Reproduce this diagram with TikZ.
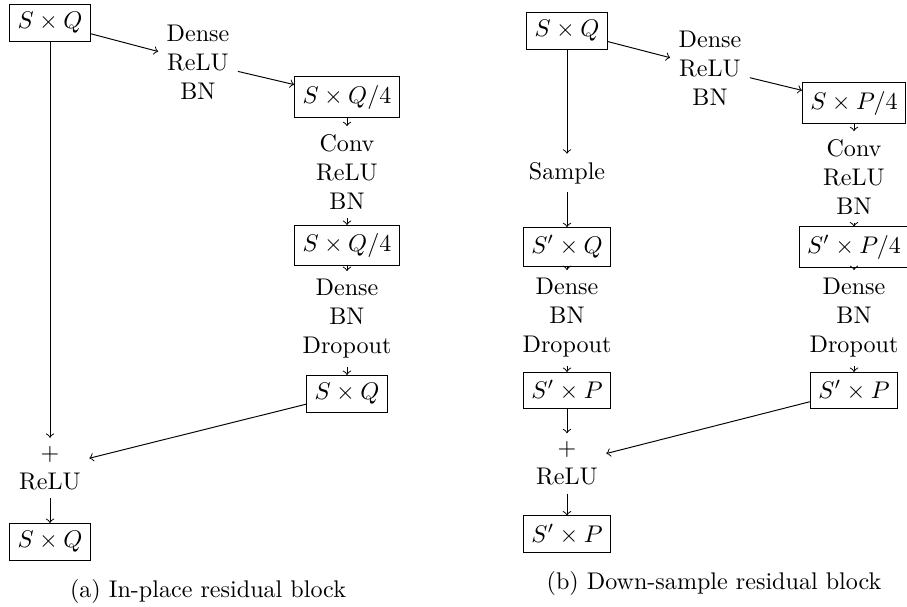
\documentclass[tikz,border=0pt]{standalone}
\usepackage{tikz}

\begin{document}
\begin{tikzpicture}[x=0.415pt,y=-0.415pt,>=to,
	box/.style={draw},
	op/.style={align=center}]
	\useasboundingbox (0,0) rectangle (907,606);
	\node[box] (a1) at (50,23) {$S\times Q$};
	\node[op] (at1) at (198,62) {Dense\\ReLU\\BN};
	\node[box] (a2) at (347,97) {$S\times Q/4$};
	\node[op] (at2) at (347,172) {Conv\\ReLU\\BN};
	\node[box] (a3) at (347,245.5) {$S\times Q/4$};
	\node[op] (at3) at (347,319) {Dense\\BN\\Dropout};
	\node[box] (a4) at (347,394) {$S\times Q$};
	\node[op] (aadd) at (50,468) {$+$\\ReLU};
	\node[box] (aout) at (50,542) {$S\times Q$};
	\node (acap) at (208,591) {(a) In-place residual block};
	\node[box] (b1) at (567,31) {$S\times Q$};
	\node[op] (bt1) at (710,68) {Dense\\ReLU\\BN};
	\node[box] (b2) at (854,103) {$S\times P/4$};
	\node[op] (bt2) at (854,177) {Conv\\ReLU\\BN};
	\node[box] (b3) at (854,247) {$S'\times P/4$};
	\node[op] (bt3) at (854,318) {Dense\\BN\\Dropout};
	\node[box] (b4) at (854,390.5) {$S'\times P$};
	\node[op] (bs) at (567,173) {Sample};
	\node[box] (bq) at (567,247) {$S'\times Q$};
	\node[op] (bt4) at (567,318) {Dense\\BN\\Dropout};
	\node[box] (bp) at (567,390.5) {$S'\times P$};
	\node[op] (badd) at (567,463.5) {$+$\\ReLU};
	\node[box] (bout) at (567,534) {$S'\times P$};
	\node (bcap) at (714,583) {(b) Down-sample residual block};
	\foreach \u/\v in {a1/at1,at1/a2,a2/at2,at2/a3,a3/at3,at3/a4,a1/aadd,a4/aadd,aadd/aout}
		\draw[->] (\u) -- (\v);
	\foreach \u/\v in {b1/bt1,bt1/b2,b2/bt2,bt2/b3,b3/bt3,bt3/b4,b1/bs,bs/bq,bq/bt4,bt4/bp,bp/badd,b4/badd,badd/bout}
		\draw[->] (\u) -- (\v);
\end{tikzpicture}
\end{document}
